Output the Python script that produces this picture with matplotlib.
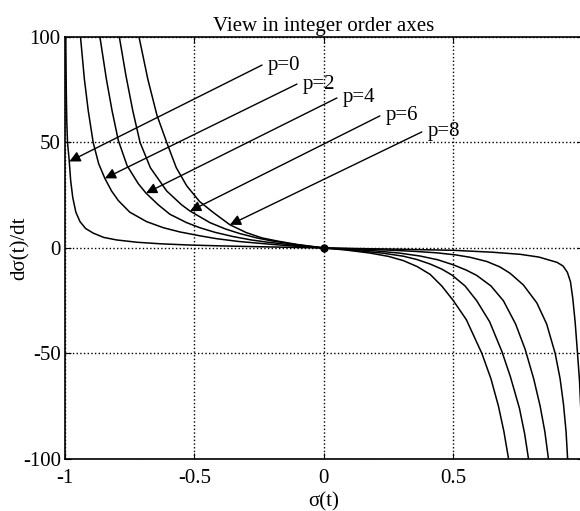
import matplotlib
matplotlib.use('Agg')
import matplotlib.pyplot as plt

plt.rcParams['font.family'] = ['Liberation Serif', 'DejaVu Serif']
plt.rcParams['axes.unicode_minus'] = False

# curves, one pair of lists per p
x_p0 = [-0.997, -0.995, -0.993, -0.990, -0.984, -0.978, -0.970, -0.958, -0.942, -0.92,
        -0.89, -0.85, -0.80, -0.72, -0.633, -0.52, -0.40, -0.25, 0.0,
        0.25, 0.50, 0.65, 0.758, 0.83, 0.90, 0.923, 0.94, 0.952, 0.961, 0.97,
        0.978, 0.987, 0.995, 1.0]
y_p0 = [100, 75, 60, 50, 42, 32, 24, 17, 12.5, 9.2,
        7.0, 5.0, 3.8, 2.7, 2.0, 1.4, 1.0, 0.6, 0.0,
        -0.5, -1.1, -2.0, -3.0, -4.3, -6.8, -8.5, -11.5, -16, -24, -35,
        -48, -63, -85, -100]

x_p2 = [-0.94, -0.925, -0.91, -0.891, -0.87, -0.846, -0.82, -0.794, -0.75, -0.685,
        -0.62, -0.556, -0.48, -0.414, -0.33, -0.247, -0.13, 0.0,
        0.12, 0.25, 0.35, 0.436, 0.51, 0.564, 0.629, 0.68, 0.719, 0.77,
        0.822, 0.86, 0.893, 0.912, 0.925, 0.935, 0.941]
y_p2 = [100, 80, 65, 50, 40, 33, 27, 22.5, 17, 12.5,
        9.6, 7.6, 5.8, 4.4, 3.1, 2.2, 1.0, 0.0,
        -0.4, -1.0, -1.6, -2.3, -3.3, -4.4, -6.4, -9.0, -12, -17.5,
        -26, -36, -50, -62, -74, -87, -100]

x_p4 = [-0.865, -0.84, -0.818, -0.794, -0.76, -0.717, -0.687, -0.64, -0.595, -0.53,
        -0.479, -0.42, -0.35, -0.28, -0.221, -0.12, 0.0,
        0.10, 0.20, 0.29, 0.371, 0.44, 0.50, 0.55, 0.59, 0.645, 0.693,
        0.74, 0.777, 0.81, 0.835, 0.853, 0.867]
y_p4 = [100, 80, 65, 51, 39, 30.5, 26, 20.5, 16, 12,
        9.6, 7.4, 5.4, 3.8, 2.8, 1.4, 0.0,
        -0.6, -1.4, -2.4, -3.8, -5.6, -8.0, -10.5, -13, -18, -25,
        -36, -48, -62, -75, -87, -100]

x_p6 = [-0.790, -0.765, -0.738, -0.710, -0.67, -0.607, -0.55, -0.517, -0.44, -0.38,
        -0.324, -0.26, -0.208, -0.12, 0.0,
        0.08, 0.15, 0.23, 0.307, 0.36, 0.41, 0.455, 0.494, 0.545, 0.59,
        0.64, 0.687, 0.72, 0.755, 0.775, 0.79]
y_p6 = [100, 82, 65, 50, 38, 27, 20.5, 17.5, 12, 9.0,
        6.8, 4.8, 3.5, 1.8, 0.0,
        -0.7, -1.5, -2.5, -3.9, -5.5, -7.6, -10, -12.8, -18, -25,
        -35, -49, -61, -76, -88, -100]

x_p8 = [-0.714, -0.68, -0.645, -0.607, -0.57, -0.53, -0.48, -0.427, -0.363, -0.30,
        -0.24, -0.18, -0.10, 0.0,
        0.08, 0.178, 0.25, 0.307, 0.36, 0.41, 0.455, 0.50, 0.55, 0.61,
        0.645, 0.674, 0.695, 0.713]
y_p8 = [100, 80, 63, 50, 38, 29.5, 22, 16.8, 11, 7.3,
        4.8, 3.3, 1.6, 0.0,
        -0.9, -2.4, -4.0, -6.0, -8.8, -12.5, -18, -25, -34, -50,
        -62, -75, -87, -100]

labels = ['p=0', 'p=2', 'p=4', 'p=6', 'p=8']
label_xy = [(-0.239, 86.7), (-0.104, 77.7), (0.050, 71.1), (0.216, 62.6), (0.378, 55.0)]
arrow_tip = [(-0.983, 41.0), (-0.846, 33.0), (-0.687, 26.0), (-0.517, 17.5), (-0.363, 11.0)]

fig = plt.figure(figsize=(5.8, 5.11), dpi=100)
ax = fig.add_axes([0.112, 0.1018, 0.893, 0.8258])

for xs, ys in [(x_p0, y_p0), (x_p2, y_p2), (x_p4, y_p4), (x_p6, y_p6), (x_p8, y_p8)]:
    ax.plot(xs, ys, color='black', lw=1.1)

ax.plot([0], [0], 'o', color='black', ms=5)

for lab, (tx, ty), (hx, hy) in zip(labels, label_xy, arrow_tip):
    ax.annotate('', xy=(hx, hy), xytext=(tx, ty),
                arrowprops=dict(arrowstyle='-|>', color='black', lw=1.0,
                                mutation_scale=16, shrinkA=0, shrinkB=0))
    ax.text(tx + 0.023, ty, lab, fontsize=15, ha='left', va='center')

ax.set_xlim(-1, 1)
ax.set_ylim(-100, 100)
ax.set_xticks([-1, -0.5, 0, 0.5])
ax.set_xticklabels(['-1', '-0.5', '0', '0.5'])
ax.set_yticks([-100, -50, 0, 50, 100])
ax.set_yticklabels(['-100', '-50', '0', '50', '100'])
ax.tick_params(direction='in', top=True, right=True, length=4, labelsize=15)
ax.tick_params(axis='x', pad=7)
ax.tick_params(axis='y', pad=3)
ax.grid(True, color='black', linestyle=':', lw=1.0)

for s in ax.spines.values():
    s.set_linewidth(1.2)

ax.set_title('View in integer order axes', fontsize=15, pad=4)
ax.set_xlabel('σ(t)', fontsize=15, labelpad=3)
ax.set_ylabel('dσ(t)/dt', fontsize=15)
ax.yaxis.set_label_coords(-0.068, 0.5)

fig.savefig('out.png', dpi=100)
